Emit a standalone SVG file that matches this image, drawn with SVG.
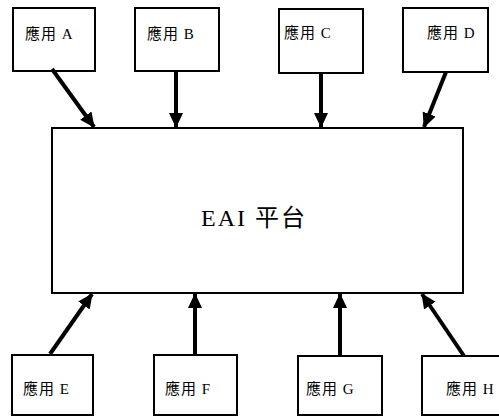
<svg xmlns="http://www.w3.org/2000/svg" width="499" height="417" viewBox="0 0 499 417">
<style>
.box{fill:#fff;stroke:#000;stroke-width:2}
.lbl{font-family:"Liberation Serif","Noto Sans CJK TC",serif;font-size:15px;letter-spacing:1px;fill:#000}
.main{font-family:"Liberation Serif","Noto Sans CJK TC",serif;font-size:24px;letter-spacing:2px;fill:#000}
.arr{stroke:#000;stroke-width:4;fill:none;marker-end:url(#ah)}
</style>
<defs>
<marker id="ah" markerUnits="userSpaceOnUse" markerWidth="16" markerHeight="16" viewBox="0 0 16 16" refX="14" refY="8" orient="auto">
<path d="M0,1 L15,8 L0,15 Z" fill="#000"/>
</marker>
</defs>
<rect width="499" height="417" fill="#fff"/>
<g id="eai"><rect class="box" x="52" y="128" width="411" height="165"/><text class="main" x="254" y="226" text-anchor="middle">EAI 平台</text></g>
<g id="appA"><rect class="box" x="13" y="8" width="82" height="63"/><text class="lbl" x="25" y="39">應用 A</text></g>
<g id="appB"><rect class="box" x="135" y="8" width="84" height="63"/><text class="lbl" x="147" y="39">應用 B</text></g>
<g id="appC"><rect class="box" x="279" y="9" width="84" height="64"/><text class="lbl" x="284" y="38">應用 C</text></g>
<g id="appD"><rect class="box" x="403" y="8" width="85" height="64"/><text class="lbl" x="427" y="38">應用 D</text></g>
<g id="appE"><rect class="box" x="12" y="355" width="81" height="60"/><text class="lbl" x="23" y="394">應用 E</text></g>
<g id="appF"><rect class="box" x="154" y="355" width="83" height="60"/><text class="lbl" x="165" y="394">應用 F</text></g>
<g id="appG"><rect class="box" x="298" y="356" width="84" height="59"/><text class="lbl" x="306" y="394">應用 G</text></g>
<g id="appH"><rect class="box" x="422" y="356" width="80" height="59"/><text class="lbl" x="446" y="394">應用 H</text></g>
<g id="connectors">
<line class="arr" x1="52" y1="69" x2="94" y2="127"/>
<line class="arr" x1="176" y1="71" x2="176" y2="127"/>
<line class="arr" x1="321" y1="73" x2="321" y2="127"/>
<line class="arr" x1="446" y1="72" x2="424" y2="127"/>
<line class="arr" x1="50" y1="354" x2="92" y2="294"/>
<line class="arr" x1="195" y1="355" x2="195" y2="294"/>
<line class="arr" x1="340" y1="356" x2="340" y2="294"/>
<line class="arr" x1="464" y1="356" x2="422" y2="294"/>
</g>
</svg>
